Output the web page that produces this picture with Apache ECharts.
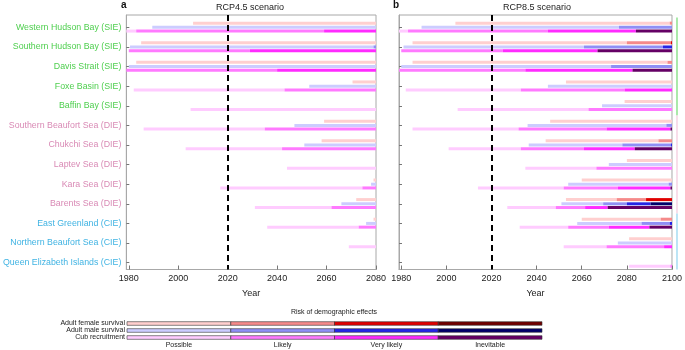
<!DOCTYPE html>
<html><head><meta charset="utf-8">
<script src="https://cdn.jsdelivr.net/npm/echarts@6/dist/echarts.min.js"></script>
<style>html,body{margin:0;padding:0;background:#fff}#c{width:685px;height:350px}</style>
</head><body><div id="c"></div>
<script>
// ---------------- DATA ----------------
const populations = ['Western Hudson Bay (SIE)','Southern Hudson Bay (SIE)','Davis Strait (SIE)','Foxe Basin (SIE)','Baffin Bay (SIE)',
  'Southern Beaufort Sea (DIE)','Chukchi Sea (DIE)','Laptev Sea (DIE)','Kara Sea (DIE)','Barents Sea (DIE)',
  'East Greenland (CIE)','Northern Beaufort Sea (CIE)','Queen Elizabeth Islands (CIE)'];
const populationGroup = ['SIE','SIE','SIE','SIE','SIE','DIE','DIE','DIE','DIE','DIE','CIE','CIE','CIE'];
const groupNames = ['SIE','DIE','CIE'];
const rateNames = ['Adult female survival','Adult male survival','Cub recruitment'];
const riskLevels = ['Possible','Likely','Very likely','Inevitable'];
const scenarios = ['RCP4.5 scenario','RCP8.5 scenario'];
const panelLetters = ['a','b'];
const endYearA = 2080, endYearB = 2100;
const markYear = 2020;
const xTicksA = [1980,2000,2020,2040,2060,2080];
const xTicksB = [1980,2000,2020,2040,2060,2080,2100];
// start years of each risk level [possible, likely, very likely, inevitable]; null = not reached
const femaleA = [[2006],[1985],[1983],[2070.5],null,[2059],[2058],null,[2079],[2072],[2079],null,null];
const maleA   = [[1989.5],[1980.5,2079],[1980],[2053],null,[2047],[2051],null,[2078],[2066],[2076],null,null];
const cubA    = [[1979,1983,2059],[null,1980,2029],[null,1979,2040],[1982,2043],[2005],[1986,2035],[2003,2042],[2044],[2017,2074.5],[2031,2062],[2036,2073],[2069],null];
const femaleB = [[2004,2099],[1985,2080,2099.5],[1985,2098],[2053],[2079],[2046],[2044,2094],[2080],[2060],[2053,2075.5,2088.5],[2060,2095],[2081],null];
const maleB   = [[1989,2076.5],[1981,2061,2096],[1980,2073],[2045],[2069],[2036,2097.5],[2036.5,2078,2099.5],[2072],[2054,2098.5],[2051,2069.5,2080,2090.5],[2058,2086.5,2099],[2076],null];
const cubB    = [[1979,1983,2045,2084],[null,1980,2025,2067],[null,1979,2035,2082.5],[1982,2033,2079],[2005,2063],[1985,2032,2071,2099.3],[2001,2033,2061,2083.5],[2035,2066.5],[2014,2052,2076,2099.3],[2027,2048.5,2061.5,2071.5],[2032.5,2054,2072,2090],[2052,2071,2096.5],[2081,2099.3]];

// ---------------- STYLE ----------------
const rateColors = [
  ['#ffcfcf','#f58a8a','#e00000','#700000'],
  ['#ccccff','#8f8ff5','#2525e6','#00006b'],
  ['#ffccff','#ff7aff','#ff2bff','#650065']
];
const groupLabelColors = {SIE:'#4fcf4f', DIE:'#d98ab5', CIE:'#3fb3e3'};
const groupLineColors = {SIE:'#8fe28f', DIE:'#f6d3e3', CIE:'#a6dcf2'};
const FONT = 'Liberation Sans';
const yMin = -0.63, yMax = 12.35;
const rateOffsets = [-0.215, 0, 0.19];

function buildSegments(arr, rate, end) {
  const out = [];
  arr.forEach((lv, row) => {
    if (!lv) return;
    const starts = lv.map((s, i) => ({s, i})).filter(o => o.s != null);
    starts.forEach((o, k) => {
      const e = k + 1 < starts.length ? starts[k + 1].s : end;
      out.push([o.s, e, row, rate, o.i]);
    });
  });
  return out;
}
const segA = [].concat(buildSegments(femaleA,0,endYearA), buildSegments(maleA,1,endYearA), buildSegments(cubA,2,endYearA));
const segB = [].concat(buildSegments(femaleB,0,endYearB), buildSegments(maleB,1,endYearB), buildSegments(cubB,2,endYearB));

function barRender(params, api) {
  const s = api.value(0), e = api.value(1), row = api.value(2), rate = api.value(3), lvl = api.value(4);
  const p0 = api.coord([s, row]), p1 = api.coord([e, row]);
  const rowH = api.size([0, 1])[1];
  const off = rateOffsets[rate] * rowH;
  const h = 3;
  return {type:'rect', shape:{x:p0[0], y:p0[1] + off - h/2, width:p1[0] - p0[0], height:h},
          style:{fill: rateColors[rate][lvl]}};
}

// group spans for right-hand coloured lines
const groupSpans = groupNames.map((g, gi) => {
  const rows = populationGroup.map((pg, i) => pg === g ? i : -1).filter(i => i >= 0);
  return [Math.max(rows[0] - 0.5, yMin), Math.min(rows[rows.length - 1] + 0.5, yMax), gi];
});

function xAxisFor(gridIndex, max, ticks) {
  return {
    type:'value', gridIndex, min:1979, max, position:'bottom',
    name:'Year', nameLocation:'middle', nameGap:20,
    nameTextStyle:{fontFamily:FONT, fontSize:9, color:'#222'},
    axisLine:{onZero:false, lineStyle:{color:'#a8a8a8'}},
    axisTick:{inside:true, length:4, customValues:ticks, lineStyle:{color:'#777'}},
    axisLabel:{customValues:ticks, formatter:(v) => String(v), fontFamily:FONT, fontSize:9, color:'#222', margin:5, hideOverlap:false},
    splitLine:{show:false}, minorTick:{show:false}
  };
}
function yAxisFor(gridIndex, showLabels) {
  const rows = populations.map((p, i) => i);
  return {
    type:'value', gridIndex, min:yMin, max:yMax, inverse:true, position:'left',
    axisLine:{show:true, onZero:false, lineStyle:{color:'#a8a8a8'}},
    axisTick:{inside:true, length:3, customValues:rows, lineStyle:{color:'#777'}},
    axisLabel:{show:showLabels, customValues:rows, fontFamily:FONT, fontSize:8.8, margin:5,
      formatter:(v) => populations[Math.round(v)] || '',
      color:(v) => groupLabelColors[populationGroup[Math.round(v)]] || '#333'},
    splitLine:{show:false}
  };
}

const markLineDef = {
  silent:true, symbol:['none','none'], label:{show:false},
  lineStyle:{color:'#000', width:2, type:[6,4]},
  data:[{xAxis:markYear}]
};

const legendData = [];
rateNames.forEach((r, ri) => riskLevels.forEach((l, li) => legendData.push([li, li + 1, ri, li])));

const option = {
  animation:false,
  backgroundColor:'#fff',
  textStyle:{fontFamily:FONT},
  grid:[
    {left:123, right:309, top:15, bottom:80.5, show:true, borderColor:'#a8a8a8', borderWidth:1},
    {left:399, right:10, top:15, bottom:80.5, show:true, borderColor:'#a8a8a8', borderWidth:1},
    {left:127, right:143, top:320, height:21}
  ],
  xAxis:[
    xAxisFor(0, endYearA, xTicksA),
    xAxisFor(1, endYearB, xTicksB),
    {type:'value', gridIndex:2, min:0, max:riskLevels.length,
     axisLine:{show:false, onZero:false}, axisTick:{show:false}, splitLine:{show:false},
     axisLabel:{customValues:riskLevels.map((l, i) => i + 0.5), formatter:(v) => riskLevels[Math.floor(v)],
       fontFamily:FONT, fontSize:7, color:'#222', margin:1}}
  ],
  yAxis:[
    yAxisFor(0, true),
    yAxisFor(1, false),
    {type:'category', gridIndex:2, data:rateNames, inverse:true,
     axisLine:{show:false, onZero:false}, axisTick:{show:false},
     axisLabel:{interval:0, fontFamily:FONT, fontSize:7, color:'#222', margin:2}}
  ],
  graphic:[
    {type:'text', left:121, top:0, style:{text:panelLetters[0], font:'bold 10px "Liberation Sans"', fill:'#111'}},
    {type:'text', left:393, top:0, style:{text:panelLetters[1], font:'bold 10px "Liberation Sans"', fill:'#111'}},
    {type:'text', x:250, y:3, style:{text:scenarios[0], textAlign:'center', font:'9px "Liberation Sans"', fill:'#222'}},
    {type:'text', x:537, y:3, style:{text:scenarios[1], textAlign:'center', font:'9px "Liberation Sans"', fill:'#222'}},
    {type:'text', x:334, y:309, style:{text:'Risk of demographic effects', textAlign:'center', font:'7px "Liberation Sans"', fill:'#222'}}
  ],
  series:[
    {type:'custom', xAxisIndex:0, yAxisIndex:0, renderItem:barRender, data:segA, encode:{x:[0,1], y:2}, markLine:markLineDef, z:2},
    {type:'custom', xAxisIndex:1, yAxisIndex:1, renderItem:barRender, data:segB, encode:{x:[0,1], y:2}, markLine:markLineDef, z:2},
    {type:'custom', xAxisIndex:1, yAxisIndex:1, clip:false, data:groupSpans, encode:{y:[0,1]},
     renderItem:(params, api) => {
       const p0 = api.coord([endYearB, api.value(0)]), p1 = api.coord([endYearB, api.value(1)]);
       const g = groupNames[api.value(2)];
       return {type:'line', shape:{x1:p0[0] + 5, y1:p0[1], x2:p1[0] + 5, y2:p1[1]},
               style:{stroke:groupLineColors[g], lineWidth:1.5}};
     }},
    {type:'custom', xAxisIndex:2, yAxisIndex:2, data:legendData, encode:{x:[0,1], y:2},
     renderItem:(params, api) => {
       const p0 = api.coord([api.value(0), api.value(2)]), p1 = api.coord([api.value(1), api.value(2)]);
       const h = 3.6;
       return {type:'rect', shape:{x:p0[0], y:p0[1] - h/2, width:p1[0] - p0[0], height:h},
               style:{fill:rateColors[api.value(2)][api.value(3)], stroke:'#333', lineWidth:0.6}};
     }}
  ]
};
const chart = echarts.init(document.getElementById('c'), null, {renderer:'canvas'});
chart.setOption(option);
</script>
</body></html>
